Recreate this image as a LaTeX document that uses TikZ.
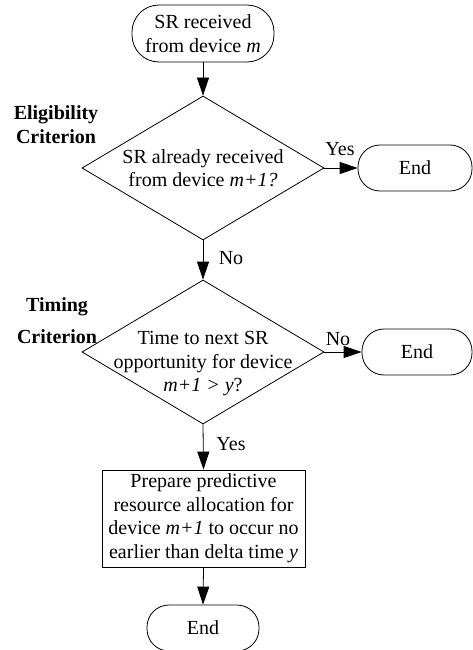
\documentclass[tikz,border=0pt]{standalone}
\usepackage{fontspec}
\setmainfont{Liberation Serif}
\usetikzlibrary{shapes.geometric,arrows.meta}
\begin{document}
\begin{tikzpicture}[x=1pt,y=-1pt,
  every node/.style={font=\fontsize{20}{23.5}\selectfont},
  term/.style={draw,line width=0.8pt,rectangle,inner sep=0pt},
  decision/.style={draw,line width=0.8pt,diamond,inner sep=0pt,aspect=1.68,minimum width=242pt,minimum height=144pt},
  procbox/.style={draw,line width=0.8pt,rectangle,inner sep=0pt,minimum width=203pt,minimum height=97pt},
  txt/.style={align=center,inner sep=0pt},
  lbl/.style={inner sep=0pt},
  crit/.style={align=center,inner sep=0pt,font=\fontsize{20}{24}\selectfont\bfseries},
  flow/.style={line width=0.8pt,-{Triangle[length=18pt,width=12pt]}}]
\useasboundingbox (0,0) rectangle (473,650);
% terminals
\node[term,minimum width=142pt,minimum height=57pt,rounded corners=27pt,align=center] (start) at (203,33.5) {SR received\\from device \textit{m}};
\node[term,minimum width=114pt,minimum height=46pt,rounded corners=22pt] (end1) at (415,168) {End};
\node[term,minimum width=110pt,minimum height=46pt,rounded corners=22pt] (end2) at (417,352) {End};
\node[term,minimum width=112pt,minimum height=46pt,rounded corners=22pt] (end3) at (203,628) {End};
% decisions
\node[decision] (d1) at (203,168) {};
\node[txt] (d1t) at (203,168) {SR already received\\from device \textit{m+1?}};
\node[decision] (d2) at (203,352) {};
\node[txt] (d2t) at (203,364) {Time to next SR\\opportunity for device\\\textit{m+1 > y}?};
% process box
\node[procbox] (box) at (203.5,518.5) {};
\node[txt] (boxt) at (203.5,518) {Prepare predictive\\resource allocation for\\device \textit{m+1} to occur no\\earlier than delta time \textit{y}};
% criteria labels
\node[crit] (elig) at (56,125) {Eligibility\\Criterion};
\node[crit] (timing) at (57,321) {Timing\\[8pt]Criterion};
% connectors
\draw[flow] (start) -- (d1.north);
\draw[flow] (d1.east) -- (end1.west);
\draw[flow] (d1.south) -- (d2.north);
\draw[flow] (d2.east) -- (end2.west);
\draw[flow] (d2.south) -- (box.north);
\draw[flow] (box.south) -- (end3.north);
% branch labels
\node[lbl] (y1) at (340,149) {Yes};
\node[lbl] (n1) at (231,258) {No};
\node[lbl] (n2) at (338,339) {No};
\node[lbl] (y2) at (231,444) {Yes};
\end{tikzpicture}
\end{document}
